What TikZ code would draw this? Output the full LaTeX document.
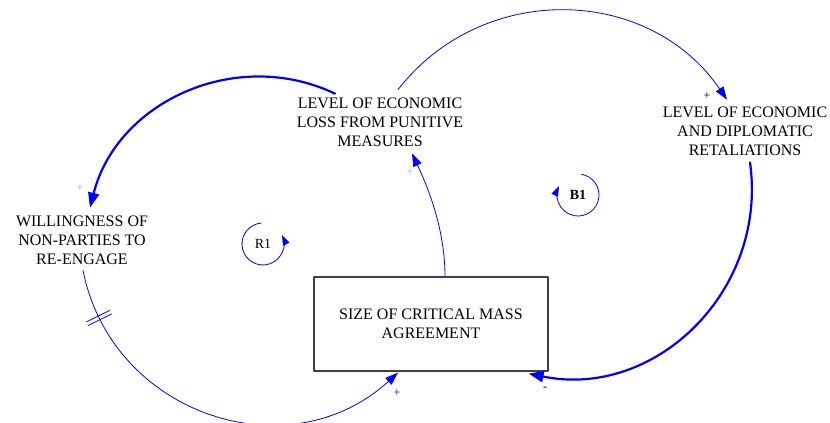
\documentclass[tikz,border=0pt]{standalone}
\usepackage{fontspec}
\setmainfont{Liberation Serif}
\usetikzlibrary{arrows.meta,decorations.markings}

\begin{document}
\begin{tikzpicture}[x=1pt, y=1pt, line join=round, line cap=round,
  var/.style={align=center, inner sep=1pt, font=\fontsize{16}{18.8}\selectfont},
  thinlink/.style={blue, line width=0.8pt, -{Triangle[length=13pt,width=9pt]}},
  thicklink/.style={blue, line width=2.2pt, -{Triangle[length=15pt,width=11pt]}},
  looparrow/.style={blue, line width=0.8pt, -{Triangle[length=10pt,width=7pt]}},
  delaybar/.style={blue, line width=0.8pt, arrows=-},
  sign/.style={inner sep=0pt, font=\fontsize{12}{12}\selectfont},
  looplabel/.style={inner sep=0pt, font=\fontsize{14}{14}\selectfont}]
  \useasboundingbox (0,0) rectangle (830,423);

  % 变量
  \node[var] (loss) at (380,301) {LEVEL OF ECONOMIC\\LOSS FROM PUNITIVE\\MEASURES};
  \node[var] (will) at (82,183) {WILLINGNESS OF\\NON-PARTIES TO\\RE-ENGAGE};
  \node[var] (ret) at (745,292) {LEVEL OF ECONOMIC\\AND DIPLOMATIC\\RETALIATIONS};
  \node[var, draw=black!75, line width=1.2pt, minimum width=234pt, minimum height=94pt] (size) at (431,99)
    {SIZE OF CRITICAL MASS\\AGREEMENT};

  % 因果连线
  \draw[thicklink] ([xshift=-45pt,yshift=3pt]loss.north) .. controls +(-99,47) and +(27,106) .. ([xshift=8pt,yshift=7pt]will.north);
  \draw[thinlink, postaction={decorate}, decoration={markings, mark=at position 0.125 with {
      \draw[delaybar] (-2pt,-13pt) -- (-2pt,13pt);
      \draw[delaybar] (2pt,-13pt) -- (2pt,13pt);}}]
    ([xshift=1pt,yshift=-5pt]will.south) .. controls +(29,-145) and +(-109,-100) .. ([xshift=-33pt,yshift=-1pt]size.south);
  \draw[thinlink] ([xshift=14pt]size.north) .. controls +(0,50) and +(14,-30) .. ([xshift=32pt,yshift=-6pt]loss.south);
  \draw[thinlink] ([xshift=18pt,yshift=7pt]loss.north) .. controls +(85,109) and +(-78,114) .. ([xshift=-18pt,yshift=6pt]ret.north);
  \draw[thicklink] ([xshift=5pt,yshift=-6pt]ret.south) .. controls +(18,-128) and +(127,-26) .. ([xshift=-20pt,yshift=-2pt]size.south east);

  % 极性符号
  \node[sign, gray!60] (p1) at (80,235) {+};
  \node[sign, gray!60] (p2) at (410,251) {+};
  \node[sign, blue] (p3) at (397,30) {+};
  \node[sign] (p4) at (707,327) {+};
  \node[sign] (m1) at (545,34) {-};

  % 回路标识
  \node[looplabel] (r1) at (263,179) {R1};
  \draw[looparrow] ([shift={(95:21pt)}]r1.center) arc[start angle=95, end angle=385, radius=21pt];
  \node[looplabel, font=\fontsize{14}{14}\selectfont\bfseries] (b1) at (578,228) {B1};
  \draw[looparrow] ([shift={(80:21pt)}]b1.center) arc[start angle=80, end angle=-205, radius=21pt];
\end{tikzpicture}
\end{document}
